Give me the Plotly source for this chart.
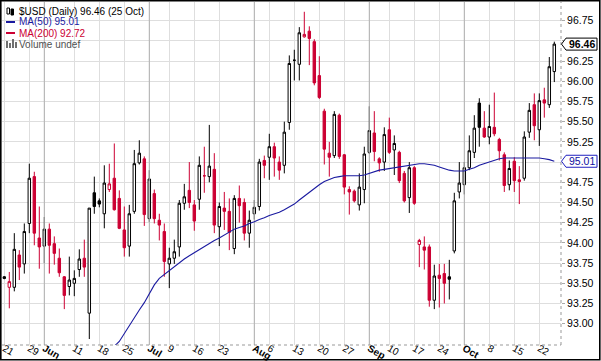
import pandas as pd
import plotly.graph_objects as go

# ---------------- data ----------------
holidays = ["2018-05-28", "2018-07-04", "2018-09-03"]
dates = [d.strftime("%Y-%m-%d") for d in pd.bdate_range("2018-05-21", "2018-10-25")
         if d.strftime("%Y-%m-%d") not in holidays]

opens = [93.58, 93.45, 93.45, 93.85, 93.74, 94.24, 94.82, 94.06, 93.96, 94.17,
         93.99, 93.81, 93.58, 93.46, 93.50, 93.67, 93.81, 93.13, 94.62, 94.52,
         94.36, 94.66, 94.80, 94.55, 94.16, 93.96, 94.39, 94.99, 95.04, 94.30,
         94.61, 94.28, 94.14, 93.74, 93.81, 93.95, 94.49, 94.65, 94.47, 94.54,
         94.83, 94.82, 94.91, 94.20, 94.43, 94.39, 93.93, 94.55, 94.50, 94.12,
         94.36, 94.45, 95.02, 95.06, 95.19, 95.00, 94.96, 95.49, 96.26, 96.21,
         96.55, 96.62, 96.49, 96.07, 95.63, 95.11, 95.08, 95.58, 95.09, 94.66,
         94.64, 94.47, 94.66, 95.12, 95.36, 95.04, 95.00, 95.40, 95.15, 95.12,
         94.86, 94.56, 94.93, 93.98, 93.95, 93.95, 93.29, 93.60, 93.62, 93.58,
         93.90, 94.63, 94.72, 94.93, 95.12, 95.73, 95.42, 95.31, 95.43, 95.28,
         95.09, 94.72, 95.01, 94.78, 94.80, 95.37, 95.71, 95.40, 95.77, 95.71,
         96.12]
highs = [93.59, 93.64, 94.12, 93.91, 94.24, 94.98, 94.88, 94.45, 94.32, 94.24,
         94.08, 93.93, 93.59, 93.83, 93.66, 93.92, 94.04, 94.43, 94.82, 94.55,
         94.96, 94.98, 95.23, 94.65, 94.45, 94.47, 95.15, 95.27, 95.07, 94.90,
         94.66, 94.36, 94.24, 93.94, 94.04, 94.53, 94.73, 95.00, 94.53, 95.07,
         95.19, 95.46, 95.11, 94.50, 94.63, 94.55, 94.59, 94.71, 94.55, 94.40,
         94.53, 95.04, 95.08, 95.35, 95.24, 95.07, 95.50, 96.32, 96.39, 96.67,
         96.86, 96.68, 96.52, 96.31, 95.66, 95.25, 95.63, 95.60, 95.10, 94.70,
         94.66, 94.86, 95.19, 95.69, 95.63, 95.06, 95.43, 95.55, 95.33, 95.14,
         94.89, 95.00, 94.95, 94.05, 94.08, 93.98, 93.73, 93.74, 93.74, 93.79,
         94.62, 95.00, 95.00, 95.33, 95.58, 95.79, 95.63, 95.71, 95.86, 95.30,
         95.12, 95.02, 95.06, 94.95, 95.38, 95.73, 95.85, 95.85, 95.92, 96.30,
         96.49]
lows = [93.55, 93.19, 93.40, 93.54, 93.62, 94.12, 93.97, 93.68, 93.75, 93.62,
        93.73, 93.58, 93.18, 93.35, 93.34, 93.58, 93.58, 92.81, 94.36, 94.44,
        94.18, 94.63, 94.40, 94.17, 93.83, 93.83, 94.36, 94.97, 94.21, 94.26,
        94.24, 94.03, 93.58, 93.44, 93.74, 93.83, 94.41, 94.43, 94.15, 94.41,
        94.62, 94.75, 94.12, 93.96, 94.16, 93.91, 93.86, 94.25, 94.03, 93.94,
        94.29, 94.40, 94.80, 94.78, 94.82, 94.78, 94.86, 95.40, 96.01, 96.01,
        96.54, 96.20, 95.95, 95.78, 94.97, 94.82, 95.05, 95.04, 94.60, 94.35,
        94.50, 94.40, 94.49, 95.10, 95.01, 94.88, 94.89, 95.10, 94.84, 94.74,
        94.50, 94.37, 94.47, 93.70, 93.67, 93.21, 93.18, 93.20, 93.25, 93.30,
        93.87, 94.55, 94.60, 94.90, 95.05, 95.19, 95.30, 95.22, 95.32, 95.02,
        94.63, 94.65, 94.63, 94.48, 94.77, 95.30, 95.27, 95.20, 95.55, 95.67,
        95.99]
closes = [93.56, 93.52, 93.92, 93.70, 94.14, 94.80, 94.12, 93.95, 94.17, 93.97,
          93.87, 93.63, 93.35, 93.54, 93.56, 93.80, 93.70, 94.43, 94.45, 94.48,
          94.74, 94.73, 94.41, 94.18, 93.94, 94.36, 94.98, 95.11, 94.35, 94.79,
          94.30, 94.22, 93.77, 93.81, 93.89, 94.49, 94.57, 94.50, 94.27, 94.96,
          94.83, 94.95, 94.22, 94.45, 94.39, 94.13, 94.55, 94.46, 94.12, 94.28,
          94.44, 95.00, 94.96, 95.19, 95.05, 94.90, 95.37, 96.22, 96.26, 96.60,
          96.58, 96.53, 95.98, 95.80, 95.16, 95.06, 95.59, 95.07, 94.69, 94.63,
          94.52, 94.69, 95.10, 95.39, 95.13, 94.99, 95.34, 95.12, 95.23, 94.77,
          94.52, 94.93, 94.49, 94.03, 93.91, 93.29, 93.59, 93.56, 93.50, 93.55,
          94.52, 94.74, 94.93, 95.14, 95.42, 95.43, 95.31, 95.44, 95.35, 95.14,
          94.71, 94.92, 94.77, 94.76, 95.31, 95.64, 95.45, 95.76, 95.73, 96.18,
          96.46]

# 50-day moving average, visible from 2018-06-19 onward
ma50_start = "2018-06-19"
ma50 = [92.55, 92.63, 92.72, 92.78, 92.88, 92.97, 93.07, 93.17, 93.26, 93.38,
        93.48, 93.56, 93.61, 93.65, 93.70, 93.75, 93.80, 93.84, 93.88, 93.92,
        93.96, 94.00, 94.03, 94.06, 94.10, 94.14, 94.17, 94.19, 94.21, 94.24,
        94.26, 94.29, 94.31, 94.34, 94.36, 94.38, 94.41, 94.44, 94.48, 94.53,
        94.58, 94.63, 94.67, 94.72, 94.76, 94.79, 94.81, 94.82, 94.83, 94.83,
        94.83, 94.83, 94.84, 94.86, 94.88, 94.90, 94.91, 94.92, 94.93, 94.94,
        94.95, 94.96, 94.97, 94.98, 94.98, 94.97, 94.96, 94.94, 94.92, 94.90,
        94.89, 94.89, 94.89, 94.91, 94.93, 94.96, 94.98, 95.00, 95.02, 95.04,
        95.05, 95.05, 95.05, 95.05, 95.05, 95.05, 95.05, 95.05, 95.04, 95.03,
        95.01]
ma200_last = 92.72

tick_dates = ["2018-05-21", "2018-05-29", "2018-06-01", "2018-06-11", "2018-06-18",
              "2018-06-25", "2018-07-02", "2018-07-09", "2018-07-16", "2018-07-23",
              "2018-08-01", "2018-08-06", "2018-08-13", "2018-08-20", "2018-08-27",
              "2018-09-04", "2018-09-10", "2018-09-17", "2018-09-24", "2018-10-01",
              "2018-10-08", "2018-10-15", "2018-10-22"]
tick_text = ["21", "29", "Jun", "11", "18", "25", "Jul", "9", "16", "23", "Aug", "6",
             "13", "20", "27", "Sep", "10", "17", "24", "Oct", "8", "15", "22"]
month_dates = ["2018-06-01", "2018-07-02", "2018-08-01", "2018-09-04", "2018-10-01"]
y_ticks = [93.00, 93.25, 93.50, 93.75, 94.00, 94.25, 94.50, 94.75, 95.00, 95.25,
           95.50, 95.75, 96.00, 96.25, 96.50, 96.75]

# ---------------- styling / layout ----------------
W, H = 601, 361
ML, MR, MT, MB = 2, 40, 2, 16
PW, PH = W - ML - MR, H - MT - MB
Y_LO, Y_HI = 92.736, 96.981
RED = "#CC0033"
NAVY = "#1A1AA0"
FONT = "Liberation Sans, Arial, sans-serif"


def px_x(px):
    return (px - ML) / PW


def px_y(py):
    return (H - MB - py) / PH


# colour: black if close >= previous close, red otherwise
is_black = [True] + [closes[i] >= closes[i - 1] for i in range(1, len(closes))]


def subset(vals, keep):
    return [v if k else None for v, k in zip(vals, keep)]


fig = go.Figure()

# darker month gridlines
mx, my = [], []
for d in month_dates:
    mx += [d, d, None]
    my += [Y_LO, Y_HI, None]
fig.add_trace(go.Scatter(x=mx, y=my, mode="lines", line=dict(color="#B0B0B0", width=1),
                         hoverinfo="skip", showlegend=False))

for keep, col, fill_dn in [(is_black, "#000000", "#000000"),
                           ([not b for b in is_black], RED, RED)]:
    fig.add_trace(go.Candlestick(
        x=dates,
        open=subset(opens, keep), high=subset(highs, keep),
        low=subset(lows, keep), close=subset(closes, keep),
        increasing=dict(line=dict(color=col, width=1), fillcolor="#FFFFFF"),
        decreasing=dict(line=dict(color=col, width=1), fillcolor=fill_dn),
        whiskerwidth=0, showlegend=False, hoverinfo="skip"))

ma_x = dates[dates.index(ma50_start):]
fig.add_trace(go.Scatter(x=ma_x, y=ma50, mode="lines", line=dict(color=NAVY, width=1.1),
                         showlegend=False, hoverinfo="skip"))

last_close = closes[-1]
last_ma = ma50[-1]

tick_labels = [f"<b>{t}</b>" if d in month_dates else t for d, t in zip(tick_dates, tick_text)]
# y labels hidden behind the value tags
y_labels = ["" if min(abs(v - last_close), abs(v - last_ma)) < 0.08 else f"{v:.2f}"
            for v in y_ticks]

fig.update_layout(
    width=W, height=H,
    margin=dict(l=ML, r=MR, t=MT, b=MB),
    paper_bgcolor="#FFFFFF", plot_bgcolor="#FFFFFF",
    boxgap=0.3,
    font=dict(family=FONT, size=10, color="#000000"),
    xaxis=dict(type="category", categoryorder="array", categoryarray=dates,
               range=[-0.46, len(dates) + 0.34], automargin=False,
               tickmode="array", tickvals=tick_dates, ticktext=tick_labels,
               showgrid=True, gridcolor="#DEDEDE", gridwidth=1,
               ticks="", showline=False, zeroline=False, ticklabelstandoff=-5,
               rangeslider=dict(visible=False),
               tickfont=dict(family=FONT, size=10, color="#000000")),
    yaxis=dict(side="right", range=[Y_LO, Y_HI], tickmode="array", automargin=False,
               tickvals=y_ticks, ticktext=y_labels,
               showgrid=True, gridcolor="#DEDEDE", gridwidth=1,
               ticks="outside", ticklen=3, tickcolor="#AAAAAA",
               showline=False, zeroline=False,
               tickfont=dict(family=FONT, size=10.5, color="#000000")),
)

shapes = []
# dotted axis lines
shapes.append(dict(type="line", xref="paper", yref="paper", x0=1, x1=1, y0=0, y1=1,
                   line=dict(color="#999999", width=1, dash="dot")))
shapes.append(dict(type="line", xref="paper", yref="paper", x0=0, x1=1, y0=0, y1=0,
                   line=dict(color="#999999", width=1, dash="dot")))
# outer frame
shapes.append(dict(type="rect", xref="paper", yref="paper",
                   x0=px_x(0.8), x1=px_x(599.8), y0=px_y(359.8), y1=px_y(0.8),
                   line=dict(color="#000000", width=1.6)))
# legend icons
shapes.append(dict(type="line", xref="paper", yref="paper", x0=px_x(6), x1=px_x(15),
                   y0=px_y(22), y1=px_y(22), line=dict(color=NAVY, width=2)))
shapes.append(dict(type="line", xref="paper", yref="paper", x0=px_x(6), x1=px_x(15),
                   y0=px_y(33), y1=px_y(33), line=dict(color=RED, width=2)))
for x0, y0 in [(7, 8), (11, 9)]:
    shapes.append(dict(type="rect", xref="paper", yref="paper", x0=px_x(x0), x1=px_x(x0 + 2.5),
                       y0=px_y(y0 + 6), y1=px_y(y0), line=dict(color="#000000", width=1),
                       fillcolor="#000000" if x0 == 11 else "#FFFFFF"))
for x0, top in [(6, 41), (9, 43), (12, 39), (15, 42)]:
    shapes.append(dict(type="rect", xref="paper", yref="paper", x0=px_x(x0), x1=px_x(x0 + 2),
                       y0=px_y(48), y1=px_y(top), line=dict(width=0), fillcolor="#707070"))

# right-side value tags with arrow points
dv = 6.0 / (PH / (Y_HI - Y_LO))
for val, col in [(last_close, "#000000"), (last_ma, "#2020C0")]:
    shapes.append(dict(type="path", xref="paper", yref="y",
                       path=f"M {px_x(561.5)},{val} L {px_x(566)},{val + dv} "
                            f"L {px_x(597)},{val + dv} L {px_x(597)},{val - dv} "
                            f"L {px_x(566)},{val - dv} Z",
                       line=dict(color=col, width=1), fillcolor="#FFFFFF", layer="above"))

annotations = []
annotations.append(dict(xref="paper", yref="y", x=px_x(581.5), y=last_close, xanchor="center",
                        yanchor="middle", showarrow=False, text=f"<b>{last_close:.2f}</b>",
                        font=dict(family=FONT, size=10.5, color="#000000")))
annotations.append(dict(xref="paper", yref="y", x=px_x(581.5), y=last_ma, xanchor="center",
                        yanchor="middle", showarrow=False, text=f"{last_ma:.2f}",
                        font=dict(family=FONT, size=10.5, color="#1010A0")))

last_day = pd.Timestamp(dates[-1])
legend_lines = [
    (f"$USD (Daily) {last_close:.2f} ({last_day.day} {last_day.strftime('%b')})", "#000000", 11),
    (f"MA(50) {last_ma:.2f}", NAVY, 22),
    (f"MA(200) {ma200_last:.2f}", RED, 33),
    ("Volume undef", "#505050", 44),
]
for text, col, yc in legend_lines:
    annotations.append(dict(xref="paper", yref="paper", x=px_x(17), y=px_y(yc),
                            xanchor="left", yanchor="middle", showarrow=False, text=text,
                            font=dict(family=FONT, size=10, color=col)))

fig.update_layout(shapes=shapes, annotations=annotations)
fig.write_html("out.html")
